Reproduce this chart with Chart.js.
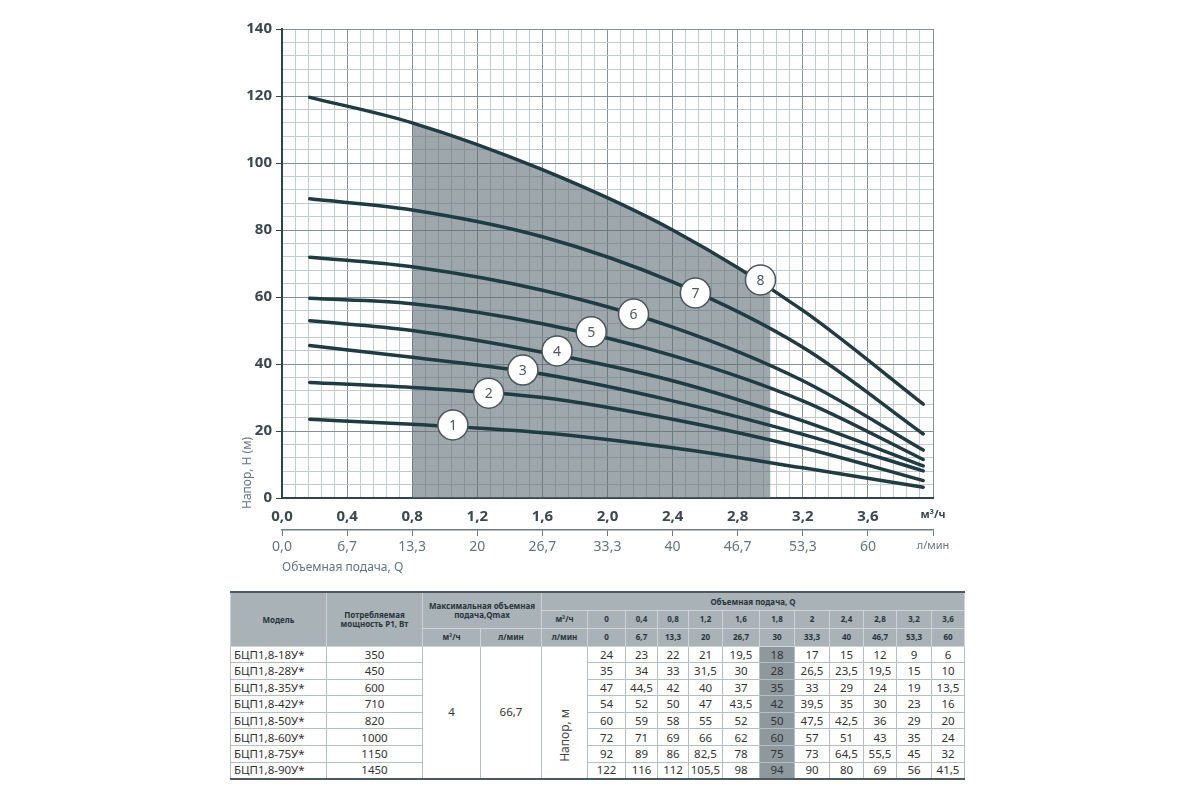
<!DOCTYPE html>
<html lang="ru">
<head>
<meta charset="utf-8">
<title>БЦП1,8 — напорные характеристики</title>
<script src="https://cdn.jsdelivr.net/npm/chart.js@4.4.1/dist/chart.umd.min.js"></script>
<style>
  html, body { margin: 0; padding: 0; background: #fff; }
  body { width: 1200px; height: 800px; position: relative; overflow: hidden; font-family: "Noto Sans", "Open Sans", sans-serif; }
  #chartBox { position: absolute; left: 0; top: 0; width: 1200px; height: 585px; }
  table.spec { position: absolute; left: 230px; top: 591px; width: 735px; border-collapse: collapse; table-layout: fixed;
    border-top: 2px solid #4f585d; border-bottom: 2px solid #4f585d; border-left: 1px solid #8d969a; border-right: 1px solid #8d969a; color: #333; }
  .spec th { background: #a8b2b7; color: #28353b; font-size: 8px; font-weight: bold; border: 1px solid #cdd3d6; padding: 0; line-height: 1.15; }
  .spec thead tr { height: 18px; }
  .spec tbody tr { height: 16.6px; }
  .spec td { font-size: 11.5px; border: 1px solid #b7bec1; text-align: center; padding: 0; line-height: 1; }
  .spec td.model { text-align: left; padding-left: 3px; }
  .spec td.hot { background: #8e999f; }
  .spec td.vlab { vertical-align: bottom; padding-bottom: 14px; }
  .spec td.vlab span { display: inline-block; writing-mode: vertical-rl; transform: rotate(180deg); font-size: 12px; color: #444; }
</style>
</head>
<body>
<div id="chartBox"><canvas id="pumpCurves"></canvas></div>
<table class="spec" id="specTable"></table>
<script>
const flowM3h = [0.17, 0.8, 1.6, 2.4, 3.2, 3.94];
// head, m, curves 1..8
const head1 = [23.5, 22, 19.5, 15, 9, 3.2];
const head2 = [34.5, 33, 30, 23.5, 15, 5.2];
const head3 = [45.5, 42, 37, 29, 19, 8.1];
const head4 = [52.9, 50, 43.5, 35, 23, 9.6];
const head5 = [59.6, 58, 52, 42.5, 29, 11.5];
const head6 = [71.9, 69, 62, 51, 35, 14.3];
const head7 = [89.3, 86, 78, 64.5, 45, 19.1];
const head8 = [119.6, 112, 98, 80, 56, 28];
const seriesList = [head1, head2, head3, head4, head5, head6, head7, head8];

// numbered circles on the curves
const markerQ = [1.05, 1.27, 1.48, 1.69, 1.90, 2.16, 2.54, 2.94];
const markerH = [21.8, 31.3, 38.2, 43.9, 49.6, 54.9, 61.2, 65.1];
const markerText = ['1', '2', '3', '4', '5', '6', '7', '8'];

// recommended working zone (grey band under curve 8)
const zoneFrom = 0.8;
const zoneTo = 3.0;

const qTickLabels = ['0,0', '0,4', '0,8', '1,2', '1,6', '2,0', '2,4', '2,8', '3,2', '3,6', 'м³/ч'];
const lpmTickLabels = ['0,0', '6,7', '13,3', '20', '26,7', '33,3', '40', '46,7', '53,3', '60', 'л/мин'];
const headTickLabels = ['0', '20', '40', '60', '80', '100', '120', '140'];

// table
const tableModels = ['БЦП1,8-18У*', 'БЦП1,8-28У*', 'БЦП1,8-35У*', 'БЦП1,8-42У*', 'БЦП1,8-50У*', 'БЦП1,8-60У*', 'БЦП1,8-75У*', 'БЦП1,8-90У*'];
const tablePowerW = [350, 450, 600, 710, 820, 1000, 1150, 1450];
const tableQm3h = ['0', '0,4', '0,8', '1,2', '1,6', '1,8', '2', '2,4', '2,8', '3,2', '3,6'];
const tableQlpm = ['0', '6,7', '13,3', '20', '26,7', '30', '33,3', '40', '46,7', '53,3', '60'];
const tableHeads = [
  [24, 23, 22, 21, 19.5, 18, 17, 15, 12, 9, 6],
  [35, 34, 33, 31.5, 30, 28, 26.5, 23.5, 19.5, 15, 10],
  [47, 44.5, 42, 40, 37, 35, 33, 29, 24, 19, 13.5],
  [54, 52, 50, 47, 43.5, 42, 39.5, 35, 30, 23, 16],
  [60, 59, 58, 55, 52, 50, 47.5, 42.5, 36, 29, 20],
  [72, 71, 69, 66, 62, 60, 57, 51, 43, 35, 24],
  [92, 89, 86, 82.5, 78, 75, 73, 64.5, 55.5, 45, 32],
  [122, 116, 112, 105.5, 98, 94, 90, 80, 69, 56, 41.5]
];
const qMaxM3h = '4';
const qMaxLpm = '66,7';

const lineColor = '#1f3c44';
const majorGrid = '#849196';
const minorGrid = '#c3cbcf';
const axisDark = '#34434a';
const labelDark = '#3a4950';
const labelGrey = '#67757b';
const fontName = '"Noto Sans", "Open Sans", sans-serif';

const fmt = v => String(v).replace('.', ',');

// ---- table ----
(function buildTable() {
  const widths = [96, 96, 58, 61, 46, 38, 32, 31, 34, 37, 35, 35, 34, 33, 35, 33];
  let html = '<colgroup>' + widths.map(w => '<col style="width:' + w + 'px">').join('') + '</colgroup>';
  html += '<thead><tr><th rowspan="3">Модель</th><th rowspan="3">Потребляемая<br>мощность Р1, Вт</th>' +
    '<th colspan="2" rowspan="2">Максимальная объемная<br>подача,Qmax</th><th colspan="12">Объемная подача, Q</th></tr>';
  html += '<tr><th>м³/ч</th>' + tableQm3h.map(q => '<th>' + q + '</th>').join('') + '</tr>';
  html += '<tr><th>м³/ч</th><th>л/мин</th><th>л/мин</th>' + tableQlpm.map(q => '<th>' + q + '</th>').join('') + '</tr></thead><tbody>';
  tableModels.forEach((m, i) => {
    html += '<tr><td class="model">' + m + '</td><td>' + tablePowerW[i] + '</td>';
    if (i === 0) {
      html += '<td rowspan="8">' + qMaxM3h + '</td><td rowspan="8">' + qMaxLpm + '</td>' +
        '<td rowspan="8" class="vlab"><span>Напор, м</span></td>';
    }
    html += tableHeads[i].map((v, j) => '<td' + (j === 5 ? ' class="hot"' : '') + '>' + fmt(v) + '</td>').join('') + '</tr>';
  });
  html += '</tbody>';
  document.getElementById('specTable').innerHTML = html;
})();

// ---- chart ----
const workZone = {
  id: 'workZone',
  beforeDatasetsDraw(chart) {
    const { ctx, chartArea, scales } = chart;
    const meta = chart.getDatasetMeta(7);
    const line = meta.dataset;
    const pts = meta.data;
    line.updateControlPoints(chartArea, 'x');
    const x1 = scales.x.getPixelForValue(zoneFrom);
    const x2 = scales.x.getPixelForValue(zoneTo);
    ctx.save();
    ctx.beginPath();
    ctx.rect(x1, chartArea.top, x2 - x1, chartArea.bottom - chartArea.top);
    ctx.clip();
    ctx.beginPath();
    line.path(ctx);
    ctx.lineTo(pts[pts.length - 1].x, chartArea.bottom);
    ctx.lineTo(pts[0].x, chartArea.bottom);
    ctx.closePath();
    ctx.fillStyle = 'rgba(92,108,116,0.6)';
    ctx.fill();
    ctx.restore();
  }
};

const markerLabels = {
  id: 'markerLabels',
  afterDatasetsDraw(chart) {
    const { ctx } = chart;
    const meta = chart.getDatasetMeta(8);
    ctx.save();
    ctx.font = '14px ' + fontName;
    ctx.fillStyle = '#4e585d';
    ctx.textAlign = 'center';
    ctx.textBaseline = 'middle';
    meta.data.forEach((pt, i) => ctx.fillText(markerText[i], pt.x, pt.y + 1));
    ctx.restore();
  }
};

const headTitle = {
  id: 'headTitle',
  afterDraw(chart) {
    const { ctx, chartArea } = chart;
    ctx.save();
    ctx.translate(chartArea.left - 34, chartArea.bottom - 25);
    ctx.rotate(-Math.PI / 2);
    ctx.font = '12px ' + fontName;
    ctx.fillStyle = labelGrey;
    ctx.textAlign = 'center';
    ctx.textBaseline = 'middle';
    ctx.fillText('Напор, Н (м)', 0, 0);
    ctx.restore();
  }
};

const datasets = seriesList.map((h, i) => ({
  label: markerText[i],
  data: flowM3h.map((q, j) => ({ x: q, y: h[j] })),
  borderColor: lineColor,
  borderWidth: 3.5,
  borderCapStyle: 'round',
  pointRadius: 0,
  cubicInterpolationMode: 'monotone',
  fill: false,
  order: 1
}));
datasets.push({
  label: 'markers',
  data: markerQ.map((q, i) => ({ x: q, y: markerH[i] })),
  showLine: false,
  pointRadius: 15,
  pointBackgroundColor: '#ffffff',
  pointBorderColor: '#4a565b',
  pointBorderWidth: 1.5,
  order: 0
});

const majorIdx = ctx => ctx.index % 5 === 0;

new Chart(document.getElementById('pumpCurves'), {
  type: 'line',
  data: { datasets },
  plugins: [workZone, markerLabels, headTitle],
  options: {
    responsive: true,
    maintainAspectRatio: false,
    animation: false,
    layout: { padding: { left: 0, right: 267, top: 29, bottom: 6 } },
    plugins: { legend: { display: false }, tooltip: { enabled: false } },
    scales: {
      x: {
        type: 'linear', position: 'bottom', min: 0, max: 4, weight: 0,
        afterFit: s => { s.height = 32; },
        grid: {
          color: ctx => majorIdx(ctx) ? majorGrid : minorGrid,
          lineWidth: 1,
          drawTicks: false
        },
        border: { color: axisDark, width: 2 },
        ticks: {
          stepSize: 0.08, autoSkip: false, maxRotation: 0, padding: 10,
          callback: (v, i) => i % 5 === 0 ? qTickLabels[i / 5] : '',
          color: labelDark,
          font: ctx => ctx.index === 50 ? { family: fontName, size: 11, weight: 'bold' } : { family: fontName, size: 15, weight: 'bold' }
        }
      },
      x2: {
        type: 'linear', position: 'bottom', min: 0, max: 4, weight: 1,
        afterFit: s => { s.height = 49; },
        grid: { drawOnChartArea: false, tickLength: 6, color: '#6e7b81', lineWidth: 1 },
        border: { color: '#6e7b81', width: 1.5 },
        ticks: {
          stepSize: 0.4, autoSkip: false, maxRotation: 0, padding: 3,
          callback: (v, i) => lpmTickLabels[i],
          color: labelGrey,
          font: ctx => ctx.index === 10 ? { family: fontName, size: 11 } : { family: fontName, size: 14 }
        },
        title: {
          display: true, text: 'Объемная подача, Q', align: 'start', color: labelGrey,
          font: { family: fontName, size: 12 }, padding: { top: 2, bottom: 4 }
        }
      },
      y: {
        type: 'linear', min: 0, max: 140,
        afterFit: s => { s.width = 282; },
        grid: {
          color: ctx => majorIdx(ctx) ? majorGrid : minorGrid,
          tickColor: ctx => majorIdx(ctx) ? axisDark : 'transparent',
          lineWidth: 1,
          tickLength: 6
        },
        border: { color: axisDark, width: 2 },
        ticks: {
          stepSize: 4, autoSkip: false, padding: 4,
          callback: (v, i) => i % 5 === 0 ? headTickLabels[i / 5] : '',
          color: labelDark,
          font: { family: fontName, size: 15, weight: 'bold' }
        }
      }
    }
  }
});
</script>
</body>
</html>
